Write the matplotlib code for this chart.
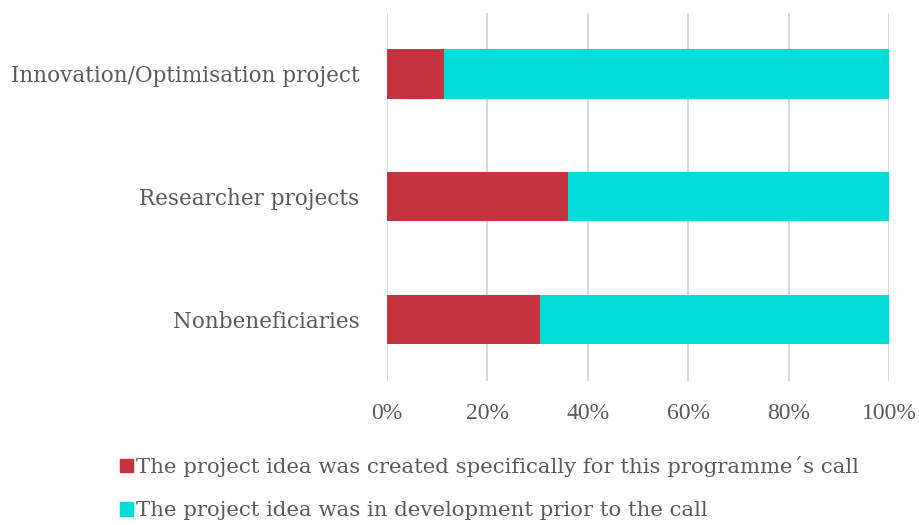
import matplotlib.pyplot as plt
from matplotlib.patches import Patch

categories = ['Nonbeneficiaries', 'Researcher projects', 'Innovation/Optimisation project']
created_for_call = [30.5, 36.0, 11.3]
in_development = [69.5, 64.0, 88.7]
series_names = ['The project idea was created specifically for this programme\u00b4s call',
                'The project idea was in development prior to the call']
xticks = [0, 20, 40, 60, 80, 100]

red = '#C3343E'
cyan = '#00DCD8'
txt = '#595959'

plt.rcParams['font.family'] = ['DejaVu Serif']

fig = plt.figure(figsize=(9.2, 5.25), dpi=100)
ax = fig.add_axes([0.4207, 0.2743, 0.5456, 0.7017])

ax.barh(categories, created_for_call, height=0.4, color=red)
ax.barh(categories, in_development, left=created_for_call, height=0.4, color=cyan)

ax.set_xlim(0, 100)
ax.set_ylim(-0.5, 2.5)
ax.set_xticks(xticks)
ax.set_xticklabels([f'{t}%' for t in xticks], family='Liberation Serif', fontsize=17)
ax.grid(axis='x', color='#D9D9D9', linewidth=1.5)
ax.set_axisbelow(True)
for s in ax.spines.values():
    s.set_visible(False)
ax.tick_params(axis='both', length=0, colors=txt)
ax.tick_params(axis='y', pad=20, labelsize=15.5)
ax.tick_params(axis='x', pad=16)

handles = [Patch(color=red), Patch(color=cyan)]
fig.legend(handles, series_names, loc='upper left', bbox_to_anchor=(0.119, 0.152),
           frameon=False, fontsize=15.3, labelcolor=txt, handlelength=0.6,
           handleheight=0.6, handletextpad=0.15, labelspacing=1.15, borderpad=0)

fig.savefig('out.png', dpi=100)
